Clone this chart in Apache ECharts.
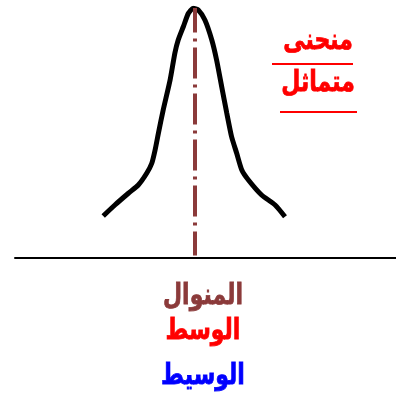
<!DOCTYPE html>
<html><head><meta charset="utf-8">
<script src="https://cdn.jsdelivr.net/npm/echarts@6/dist/echarts.min.js"></script>
<style>html,body{margin:0;padding:0;background:#fff}#c{width:396px;height:396px}</style>
</head><body><div id="c"></div>
<script>
var curveX = [-3.06, -2.67, -2.22, -1.89, -1.61, -1.44, -1.33, -1.22, -1.06, -0.83, -0.67, -0.56, -0.39, -0.22, -0.06, 0.11, 0.33, 0.56, 0.72, 0.89, 1.06, 1.22, 1.39, 1.56, 1.78, 2.22, 2.67, 3.0];
var curveY = [1.68, 2.12, 2.59, 2.92, 3.39, 3.79, 4.32, 4.99, 5.92, 7.12, 8.2, 8.72, 9.25, 9.79, 9.99, 9.92, 9.52, 8.72, 7.92, 6.85, 5.79, 4.85, 4.19, 3.52, 3.12, 2.52, 2.12, 1.65];
var centreX = 0;
var titleLines = ['منحنى', 'متماثل'];
var bottomLabels = ['المنوال', 'الوسط', 'الوسيط'];
var bottomColors = ['#8b3a3a', '#ff0000', '#0000ff'];

var chart = echarts.init(document.getElementById('c'), null, {renderer: 'canvas'});
var font = '"DejaVu Sans", sans-serif';
var graphics = [];
var titleY = [42, 84];
function txt(t, x, y, color) {
  return {type: 'text', x: x, y: y, scaleY: 1.3, style: {text: t, fill: color, stroke: color, lineWidth: 0.6, font: 'bold 22px ' + font, textAlign: 'center', textVerticalAlign: 'middle'}};
}
titleLines.forEach(function (t, i) { graphics.push(txt(t, 318, titleY[i], '#ff0000')); });
graphics.push({type: 'line', shape: {x1: 272, y1: 64, x2: 353, y2: 64}, style: {stroke: '#ff0000', lineWidth: 2}});
graphics.push({type: 'line', shape: {x1: 280, y1: 112, x2: 357, y2: 112}, style: {stroke: '#ff0000', lineWidth: 2}});
var botY = [297, 332, 377];
bottomLabels.forEach(function (t, i) { graphics.push(txt(t, 203, botY[i], bottomColors[i])); });

chart.setOption({
  animation: false,
  grid: {left: 15, right: 0, top: 8, bottom: 138},
  xAxis: {type: 'value', min: -6, max: 6.7, axisLine: {onZero: false, lineStyle: {color: '#000', width: 2}}, axisTick: {show: false}, axisLabel: {show: false}, splitLine: {show: false}},
  yAxis: {type: 'value', min: 0, max: 10, show: false, splitLine: {show: false}},
  graphic: graphics,
  series: [{
    type: 'line',
    data: curveX.map(function (x, i) { return [x, curveY[i]]; }),
    smooth: 0.2,
    showSymbol: false,
    lineStyle: {color: '#000', width: 5},
    markLine: {
      silent: true,
      symbol: ['none', 'none'],
      label: {show: false},
      lineStyle: {color: '#8b3a3a', width: 4, type: [31, 6, 3, 6], dashOffset: 6.5},
      data: [[{coord: [centreX, 10]}, {coord: [centreX, 0.1]}]]
    },
    z: 3
  }]
});
</script></body></html>
